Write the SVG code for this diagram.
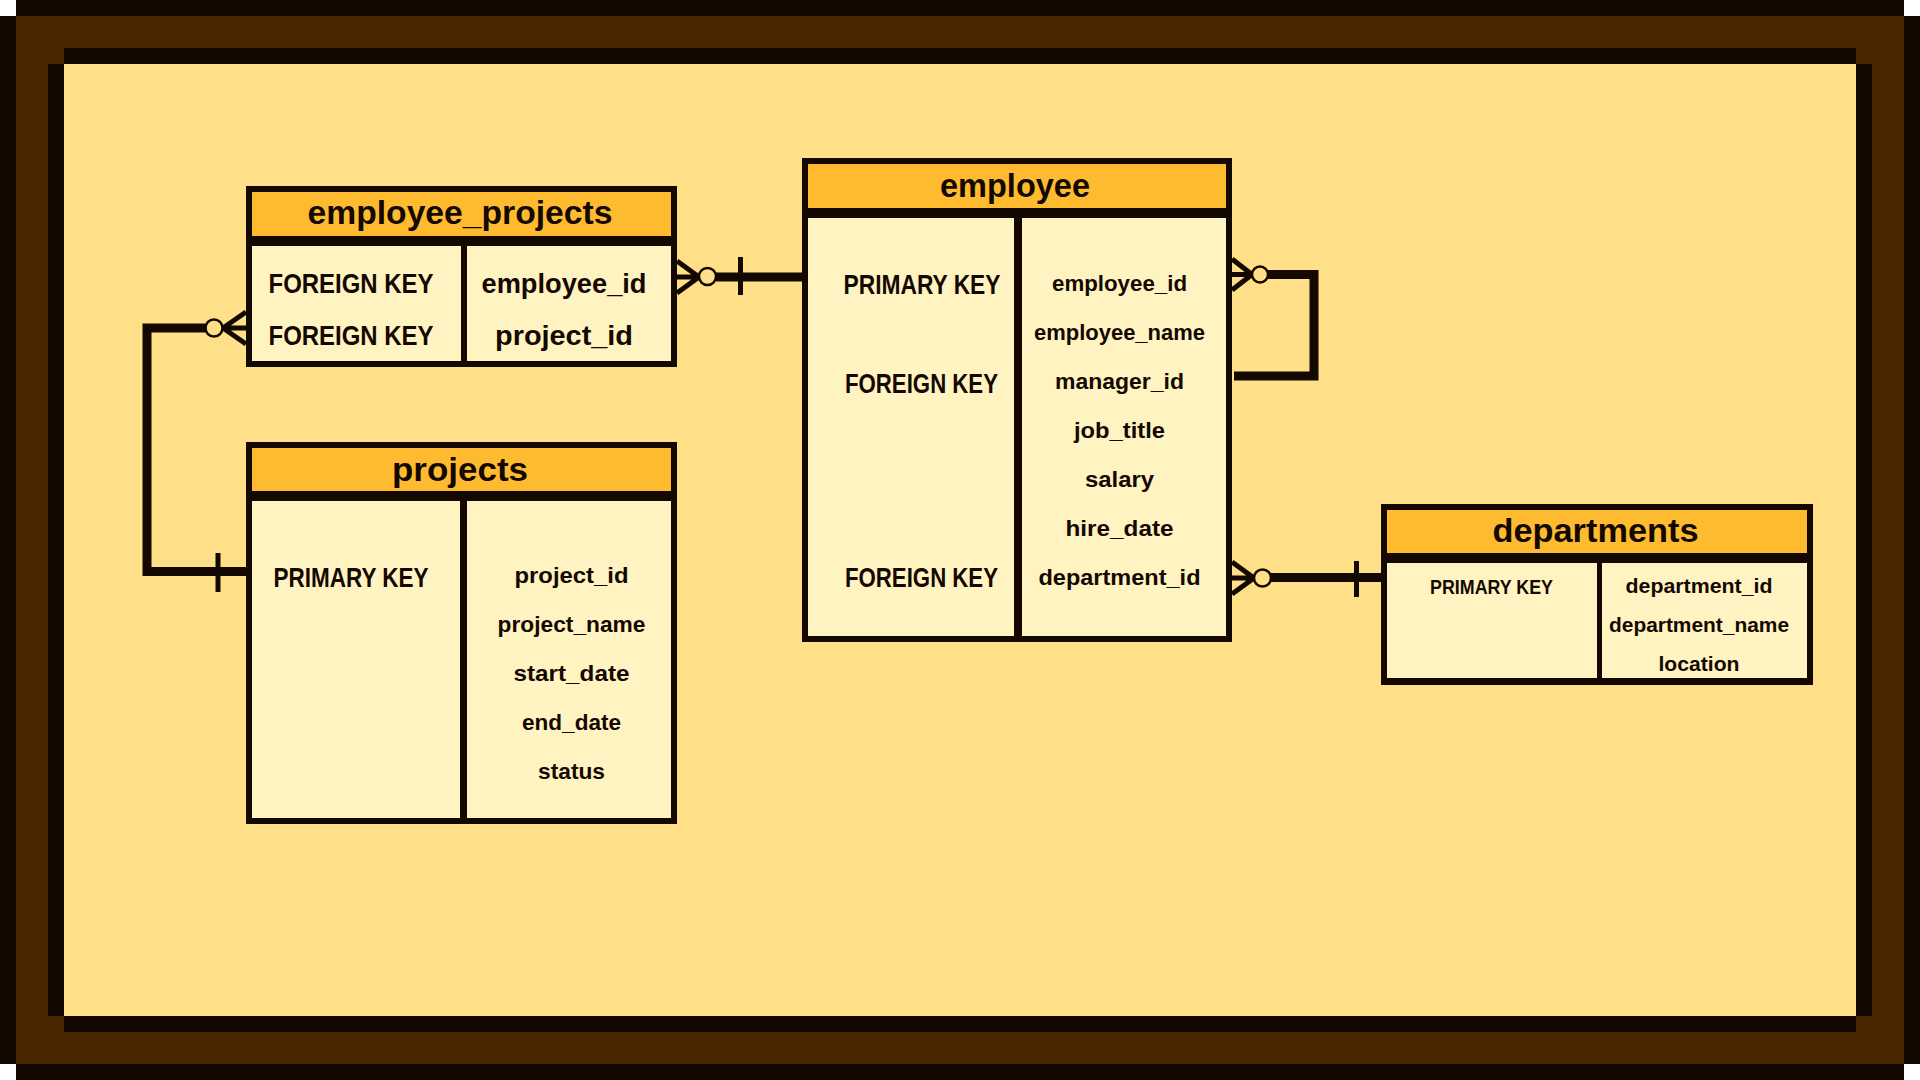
<svg xmlns="http://www.w3.org/2000/svg" width="1920" height="1080" viewBox="0 0 1920 1080">
<style>
.dk{fill:#140900}
.br{fill:#4A2701}
.bg{fill:#FFDF87}
.hd{fill:#FEBB30}
.bd{fill:#FFF3C2}
text{font-family:"Liberation Sans",Arial,sans-serif;font-weight:bold;fill:#140900;text-anchor:middle}
.h{font-size:34px}
.k{font-size:28px}
.f{font-size:22px}
.s{font-size:21px}
.ln{fill:none;stroke:#140900;stroke-width:9;stroke-linejoin:miter;stroke-linecap:butt}
.cf{fill:none;stroke:#140900;stroke-width:5}
.ci{fill:#FFDF87;stroke:#140900;stroke-width:2.5}
.bar{stroke:#140900;stroke-width:5}
</style>
<g id="frame">
<rect width="1920" height="1080" fill="#FFFFFF"/>
<rect class="dk" x="16" y="0" width="1888" height="1080"/>
<rect class="dk" x="0" y="16" width="1920" height="1048"/>
<rect class="br" x="16" y="16" width="1888" height="1048"/>
<rect class="dk" x="64" y="48" width="1792" height="984"/>
<rect class="dk" x="48" y="64" width="1824" height="952"/>
<rect class="bg" x="64" y="64" width="1792" height="952"/>
</g>
<g id="employee_projects">
<rect class="dk" x="246" y="186" width="431" height="181"/>
<rect class="hd" x="252" y="192" width="419" height="44"/>
<rect class="bd" x="252" y="246" width="209" height="115"/>
<rect class="bd" x="467" y="246" width="204" height="115"/>
<text class="h" x="460" y="224" textLength="305" lengthAdjust="spacingAndGlyphs">employee_projects</text>
<text class="k" x="351" y="293" textLength="165" lengthAdjust="spacingAndGlyphs">FOREIGN KEY</text>
<text class="k" x="351" y="344.5" textLength="165" lengthAdjust="spacingAndGlyphs">FOREIGN KEY</text>
<text class="k" x="564" y="293" textLength="165" lengthAdjust="spacingAndGlyphs">employee_id</text>
<text class="k" x="564" y="344.5" textLength="138" lengthAdjust="spacingAndGlyphs">project_id</text>
</g>
<g id="projects">
<rect class="dk" x="246" y="442" width="431" height="382"/>
<rect class="hd" x="252" y="448" width="419" height="43"/>
<rect class="bd" x="252" y="501" width="208" height="317"/>
<rect class="bd" x="467" y="501" width="204" height="317"/>
<text class="h" x="460" y="481" textLength="136" lengthAdjust="spacingAndGlyphs">projects</text>
<text class="k" x="351" y="586.5" textLength="155" lengthAdjust="spacingAndGlyphs">PRIMARY KEY</text>
<text class="f" x="571.5" y="583" textLength="114" lengthAdjust="spacingAndGlyphs">project_id</text>
<text class="f" x="571.5" y="632" textLength="148" lengthAdjust="spacingAndGlyphs">project_name</text>
<text class="f" x="571.5" y="681" textLength="116" lengthAdjust="spacingAndGlyphs">start_date</text>
<text class="f" x="571.5" y="730" textLength="99" lengthAdjust="spacingAndGlyphs">end_date</text>
<text class="f" x="571.5" y="779" textLength="67" lengthAdjust="spacingAndGlyphs">status</text>
</g>
<g id="employee">
<rect class="dk" x="802" y="158" width="430" height="484"/>
<rect class="hd" x="808" y="164" width="418" height="44"/>
<rect class="bd" x="808" y="218" width="206" height="418"/>
<rect class="bd" x="1022" y="218" width="204" height="418"/>
<text class="h" x="1015" y="196.5" textLength="150" lengthAdjust="spacingAndGlyphs">employee</text>
<text class="k" x="922" y="294" textLength="157" lengthAdjust="spacingAndGlyphs">PRIMARY KEY</text>
<text class="k" x="921.5" y="393" textLength="153" lengthAdjust="spacingAndGlyphs">FOREIGN KEY</text>
<text class="k" x="921.5" y="586.5" textLength="153" lengthAdjust="spacingAndGlyphs">FOREIGN KEY</text>
<text class="f" x="1119.5" y="291" textLength="135" lengthAdjust="spacingAndGlyphs">employee_id</text>
<text class="f" x="1119.5" y="340" textLength="171" lengthAdjust="spacingAndGlyphs">employee_name</text>
<text class="f" x="1119.5" y="389" textLength="129" lengthAdjust="spacingAndGlyphs">manager_id</text>
<text class="f" x="1119.5" y="438" textLength="91" lengthAdjust="spacingAndGlyphs">job_title</text>
<text class="f" x="1119.5" y="487" textLength="69" lengthAdjust="spacingAndGlyphs">salary</text>
<text class="f" x="1119.5" y="536" textLength="108" lengthAdjust="spacingAndGlyphs">hire_date</text>
<text class="f" x="1119.5" y="585" textLength="162" lengthAdjust="spacingAndGlyphs">department_id</text>
</g>
<g id="departments">
<rect class="dk" x="1381" y="504" width="432" height="181"/>
<rect class="hd" x="1387" y="510" width="420" height="43"/>
<rect class="bd" x="1387" y="563" width="210" height="115"/>
<rect class="bd" x="1602" y="563" width="205" height="115"/>
<text class="h" x="1595.5" y="541.5" textLength="206" lengthAdjust="spacingAndGlyphs">departments</text>
<text class="s" x="1491.5" y="594" textLength="123" lengthAdjust="spacingAndGlyphs">PRIMARY KEY</text>
<text class="s" x="1699" y="593" textLength="147" lengthAdjust="spacingAndGlyphs">department_id</text>
<text class="s" x="1699" y="632" textLength="180" lengthAdjust="spacingAndGlyphs">department_name</text>
<text class="s" x="1699" y="671" textLength="81" lengthAdjust="spacingAndGlyphs">location</text>
</g>
<g id="connectors">
<g id="c1">
<path class="ln" d="M716 277H802"/>
<path class="cf" d="M677 261L699 277M677 277H699M677 293L699 277"/>
<circle class="ci" cx="707.5" cy="276.5" r="8.5"/>
<path class="bar" d="M740.5 257V295"/>
</g>
<g id="c2">
<path class="ln" d="M205.5 328H147V571.5H246"/>
<path class="cf" d="M246 312L223 328M246 328H223M246 344L223 328"/>
<circle class="ci" cx="214" cy="328" r="8.5"/>
<path class="bar" d="M218 553V592"/>
</g>
<g id="c3">
<path class="ln" d="M1271 577.5H1381"/>
<path class="cf" d="M1232 562L1254 578M1232 578H1254M1232 594L1254 578"/>
<circle class="ci" cx="1262.5" cy="578" r="8.5"/>
<path class="bar" d="M1356.5 561V597"/>
</g>
<g id="c4">
<path class="ln" d="M1268 274.5H1314V376H1234"/>
<path class="cf" d="M1232 259L1252 274.5M1232 274.5H1252M1232 290L1252 274.5"/>
<circle class="ci" cx="1260" cy="274.5" r="8"/>
</g>
</g>
</svg>
